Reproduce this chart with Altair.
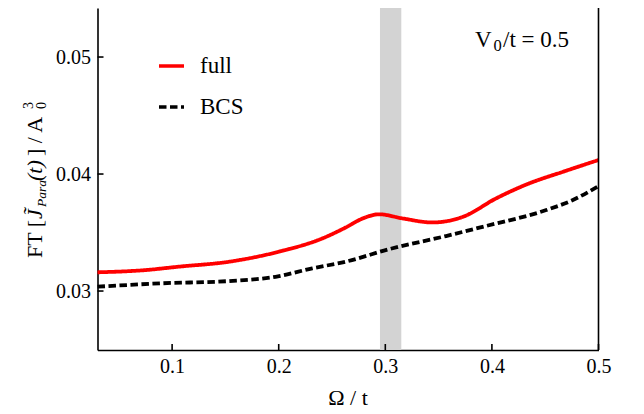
import altair as alt
import pandas as pd

# ---- data ----
series_names = ["full", "BCS"]
full_x = [0.030, 0.075, 0.106, 0.153, 0.200, 0.241, 0.263, 0.279, 0.294, 0.316, 0.344, 0.373, 0.404, 0.435, 0.467, 0.500]
full_y = [0.03160, 0.03179, 0.03208, 0.03250, 0.03336, 0.03450, 0.03544, 0.03621, 0.03656, 0.03621, 0.03586, 0.03635, 0.03792, 0.03920, 0.04020, 0.04120]
bcs_x = [0.030, 0.090, 0.153, 0.197, 0.2315, 0.263, 0.304, 0.357, 0.3945, 0.451, 0.476, 0.500]
bcs_y = [0.03037, 0.03066, 0.03085, 0.03122, 0.03194, 0.03251, 0.03359, 0.03470, 0.03556, 0.03692, 0.03778, 0.03897]
x_ticks = [0.1, 0.2, 0.3, 0.4, 0.5]
y_ticks = [0.03, 0.04, 0.05]
band_lo = [0.295]
band_hi = [0.315]

W, H = 501, 342
X_DOM = [0.03, 0.5]
Y_DOM = [0.02496, 0.05419]
FONT = "Liberation Serif"

df = pd.concat([
    pd.DataFrame({"x": full_x, "y": full_y, "s": series_names[0]}),
    pd.DataFrame({"x": bcs_x, "y": bcs_y, "s": series_names[1]}),
], ignore_index=True)

xs = alt.Scale(domain=X_DOM, nice=False, zero=False)
ys = alt.Scale(domain=Y_DOM, nice=False, zero=False)

xaxis = alt.Axis(
    values=x_ticks, format=".1f", tickSize=0, labelPadding=6, labelFlush=False,
    labelFont=FONT, labelFontSize=20, labelColor="black",
    domainColor="black", domainWidth=1.6, grid=False, title=None)
yaxis = alt.Axis(
    values=y_ticks, format=".2f", tickSize=0, labelPadding=7,
    labelFont=FONT, labelFontSize=20, labelColor="black",
    domainColor="black", domainWidth=1.6, grid=False, title=None)

band = alt.Chart(pd.DataFrame({"a": band_lo, "b": band_hi})).mark_rect(color="#d3d3d3").encode(
    x=alt.X("a:Q", scale=xs, axis=xaxis),
    x2="b:Q",
    y=alt.value(0),
    y2=alt.value(H),
)

lines = alt.Chart(df).mark_line(interpolate="monotone", strokeWidth=3.8, strokeCap="butt").encode(
    x=alt.X("x:Q", scale=xs, axis=xaxis),
    y=alt.Y("y:Q", scale=ys, axis=yaxis),
    color=alt.Color("s:N", scale=alt.Scale(domain=series_names, range=["#ff0000", "#000000"]),
                    legend=alt.Legend(title=None)),
    strokeDash=alt.StrokeDash("s:N", scale=alt.Scale(domain=series_names, range=[[1, 0], [7.5, 3.5]]),
                              legend=alt.Legend(title=None)),
    order=alt.Order("x:Q"),
)

xt = alt.Chart(pd.DataFrame({"v": x_ticks})).mark_rule(color="black", strokeWidth=1.6).encode(
    x=alt.X("v:Q", scale=xs, axis=xaxis), y=alt.value(H), y2=alt.value(H - 6))
yt = alt.Chart(pd.DataFrame({"v": y_ticks})).mark_rule(color="black", strokeWidth=1.6).encode(
    y=alt.Y("v:Q", scale=ys, axis=yaxis), x=alt.value(0), x2=alt.value(6))
right = alt.Chart(pd.DataFrame({"v": [X_DOM[1]]})).mark_rule(color="black", strokeWidth=1.6).encode(
    x=alt.X("v:Q", scale=xs, axis=xaxis), y=alt.value(0), y2=alt.value(H))


def label(txt, x, y, size, align="left", angle=0, style="normal"):
    return alt.Chart(pd.DataFrame({"t": [txt]})).mark_text(
        font=FONT, fontSize=size, align=align, baseline="alphabetic", color="black",
        angle=angle, fontStyle=style).encode(
        x=alt.value(x), y=alt.value(y), text="t:N")


# annotation  V0/t = 0.5
ann = [label("V", 377.5, 38.7, 23), label("0", 396, 43, 16.5), label("/t = 0.5", 405.5, 38.7, 23)]

# x title  Ω / t
xtitle = [label("Ω / t", W / 2, 397, 22, align="center")]

# y title  FT [ J~_Para(t) ] / A_0^3  (rotated, composed of pieces)
BX = -55.5
ytitle = [
    label("FT [", BX, 250, 22, angle=270),
    label("J\u0303", BX, 211, 22, angle=270, style="italic"),
    label("Para", BX + 4, 199, 13.5, angle=270, style="italic"),
    label("(t)", BX, 173, 22, angle=270, style="italic"),
    label("] / A", BX, 148, 22, angle=270),
    label("3", BX - 9, 101, 14, angle=270),
    label("0", BX + 4, 101, 14, angle=270),
]

chart = alt.layer(band, lines, xt, yt, right, *ann, *xtitle, *ytitle).properties(
    width=W, height=H, autosize="none",
    padding={"left": 89.5, "top": 0, "right": 37, "bottom": 64},
).configure_view(stroke=None).configure_legend(
    orient="none", legendX=59.5, legendY=43.5, padding=0,
    symbolType="stroke", symbolSize=625, symbolStrokeWidth=3.5,
    labelFont=FONT, labelFontSize=23, labelColor="black",
    labelOffset=14, rowPadding=14,
)

chart.save("out.html", embed_options={"renderer": "svg", "actions": False})
